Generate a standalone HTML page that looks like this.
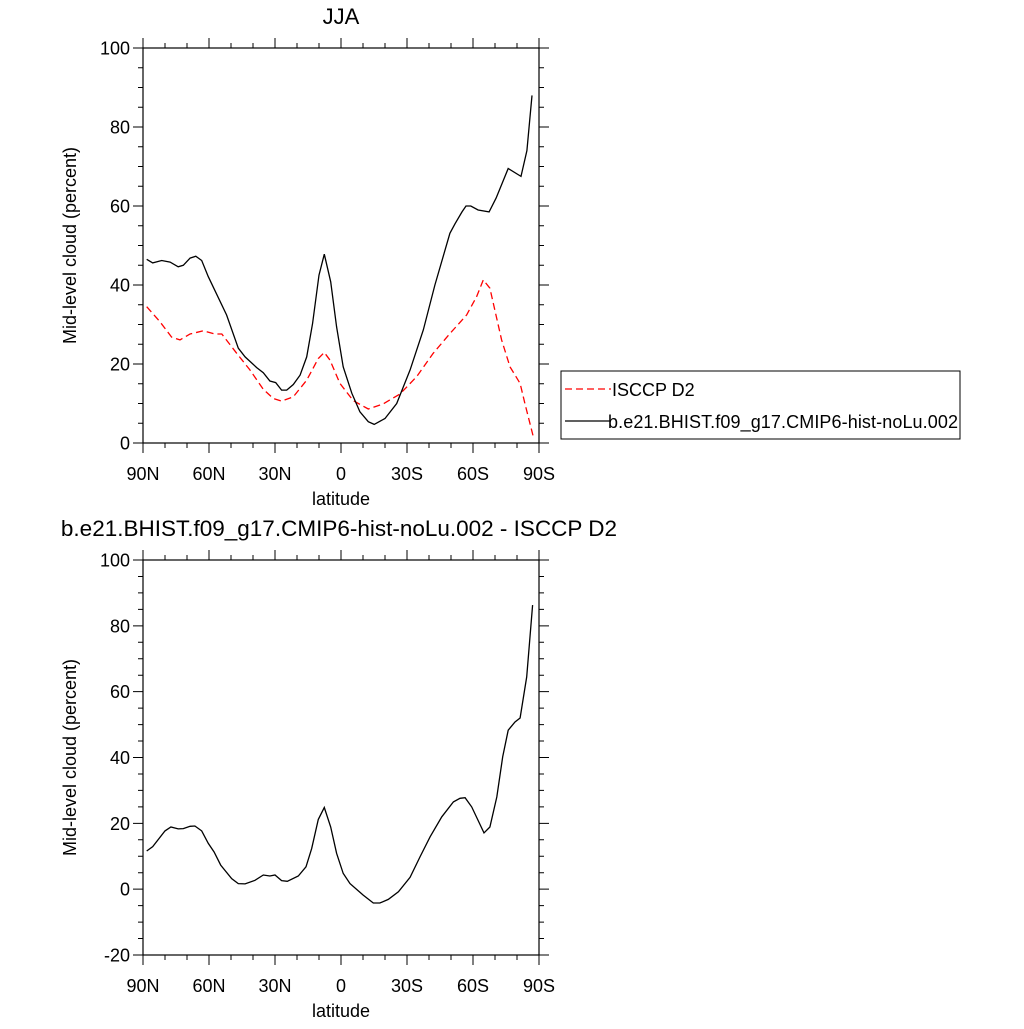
<!DOCTYPE html>
<html><head><meta charset="utf-8"><style>
body{margin:0;background:#fff;}
svg text{font-family:"Liberation Sans",sans-serif;fill:#000;}
</style></head><body>
<svg id="c" width="1024" height="1024" xmlns="http://www.w3.org/2000/svg"></svg>
<script>
const xTickLabels=["90N","60N","30N","0","30S","60S","90S"];
const xTickLats=[90,60,30,0,-30,-60,-90];
const modelLat=[88.3,85.6,81.5,77.7,74,71.7,68.6,66,63.3,60.3,52,46.7,43.6,38.3,35.3,32.3,29.7,27,24.7,21.7,18.6,15.6,12.9,10,7.6,4.7,2,-1,-4.9,-8.6,-12.4,-15.1,-20,-25.3,-31.4,-37.4,-42.7,-49.5,-51.8,-55,-56.8,-59,-62.3,-67.3,-70.5,-76,-81.8,-84.5,-86.8];
const modelVal=[46.5,45.6,46.2,45.8,44.6,45,46.8,47.3,46.2,42.1,32.4,24,21.8,19.1,17.8,15.7,15.3,13.4,13.4,14.8,17.2,21.8,30.3,42.5,47.8,40.8,29.4,19.3,12.6,7.9,5.4,4.7,6.2,10,18.5,28.6,40,53.1,55.5,58.5,60,60,59,58.5,62,69.5,67.5,74,88];
const obsLat=[88.3,82.3,77,73.2,68.6,62.6,57.3,54.2,47.4,41.4,35.3,30.8,27,21.7,15.6,10.3,7.6,5,0.5,-5.6,-12.4,-19.2,-26.8,-34.4,-41.9,-49.5,-57.1,-61.6,-64.7,-67.7,-73,-76.8,-81.4,-83.6,-87.4];
const obsVal=[34.5,30.7,26.8,26.1,27.6,28.4,27.6,27.6,22.7,18.5,13.6,11.3,10.6,11.7,15.9,21.4,22.9,21,15.1,10.7,8.6,9.9,12.4,16.8,22.7,27.7,32.4,37,41.3,39.2,26.1,19.3,15.1,10,1.6];
const diffLat=[88.3,85.6,80,77.3,74,71.7,68.6,66.4,63.3,60.3,57.7,54.7,49.7,46.7,43.6,39.1,35.3,32.3,30,27,24.4,19.4,15.9,13.3,10.3,7.6,4.7,2,-1,-4.1,-10.1,-14.7,-17.7,-21.5,-26.1,-31.4,-35.9,-40.5,-45.8,-51.1,-54.1,-56.4,-59.4,-65,-67.7,-70.8,-73.5,-76,-79.1,-81.4,-84.4,-87.1];
const diffVal=[11.6,12.9,17.7,18.9,18.3,18.4,19.1,19.2,17.7,13.9,11.3,7.3,3.2,1.7,1.6,2.7,4.3,4,4.3,2.6,2.4,4,6.8,12.4,21.2,24.8,18.9,10.9,4.8,1.7,-1.8,-4.2,-4.2,-3.1,-0.8,3.6,9.8,15.9,22,26.5,27.6,27.8,25,17.1,18.9,28,40.2,48.3,50.8,52,64.5,86.3];
const topTicks=[0,20,40,60,80,100];
const botTicks=[-20,0,20,40,60,80,100];

const svg=document.getElementById('c');
const NS="http://www.w3.org/2000/svg";
function mk(tag,attrs,parent){const e=document.createElementNS(NS,tag);for(const k in attrs)e.setAttribute(k,attrs[k]);(parent||svg).appendChild(e);return e;}
const X0=143,X1=539;
function xs(lat){return X0+(90-lat)/180*(X1-X0);}

function panel(name,top,bot,ymin,ymax,ticks){
  const g=mk('g',{});
  
  
  const ys=v=>bot-(v-ymin)/(ymax-ymin)*(bot-top);
  let d='';
  for(let v=ymin;v<=ymax;v+=5){const maj=(v%20===0);const L=maj?10:5;
    d+=`M${X0-L},${ys(v)}H${X0}M${X1},${ys(v)}H${X1+L}`;}
  for(let l=90;l>=-90;l-=10){const maj=(l%30===0);const L=maj?10:5;
    d+=`M${xs(l)},${bot}V${bot+L}M${xs(l)},${top}V${top-L}`;}
  const tk=mk('path',{d:d,stroke:'#000','stroke-width':1,fill:'none'},g);
  
  const fr=mk('rect',{x:X0,y:top,width:X1-X0,height:bot-top,fill:'none',stroke:'#000','stroke-width':1.2},g);
  
  ticks.forEach(v=>{const t=mk('text',{x:X0-13,y:ys(v)+6.5,'text-anchor':'end','font-size':18},g);t.textContent=v;
    });
  xTickLats.forEach((l,i)=>{const t=mk('text',{x:xs(l),y:bot+37,'text-anchor':'middle','font-size':18},g);t.textContent=xTickLabels[i];
    });
  const xt=mk('text',{x:341,y:bot+62,'text-anchor':'middle','font-size':18},g);xt.textContent='latitude';
  
  const yt=mk('text',{x:0,y:0,'text-anchor':'middle','font-size':18,transform:`translate(76,${(top+bot)/2}) rotate(-90)`},g);yt.textContent='Mid-level cloud (percent)';
  
  return {g,ys};
}
function line(p,lat,val,color,dash,name){
  const pts=lat.map((l,i)=>xs(l).toFixed(1)+','+p.ys(val[i]).toFixed(1)).join(' ');
  const a={points:pts,fill:'none',stroke:color,'stroke-width':1.3};
  if(dash)a['stroke-dasharray']=dash;
  const e=mk('polyline',a,p.g);
  
}
const p1=panel('top-panel',48,443,0,100,topTicks);
line(p1,obsLat,obsVal,'#f00','7,4','isccp-line');
line(p1,modelLat,modelVal,'#000',null,'model-line');
const t1=mk('text',{x:341,y:24,'text-anchor':'middle','font-size':22});t1.textContent='JJA';


const p2=panel('bottom-panel',560,955,-20,100,botTicks);
line(p2,diffLat,diffVal,'#000',null,'difference-line');
const t2=mk('text',{x:339,y:536,'text-anchor':'middle','font-size':22.5});t2.textContent='b.e21.BHIST.f09_g17.CMIP6-hist-noLu.002 - ISCCP D2';


const lg=mk('g',{});

mk('rect',{x:561,y:371,width:399,height:68,fill:'#fff',stroke:'#000','stroke-width':1},lg);
const l1=mk('line',{x1:565,y1:389,x2:611,y2:389,stroke:'#f00','stroke-width':1.3,'stroke-dasharray':'7,4'},lg);

const lt1=mk('text',{x:612,y:396,'font-size':18},lg);lt1.textContent='ISCCP D2';

const l2=mk('line',{x1:565,y1:421,x2:611,y2:421,stroke:'#000','stroke-width':1.3},lg);

const lt2=mk('text',{x:608,y:428,'font-size':18,textLength:350},lg);lt2.textContent='b.e21.BHIST.f09_g17.CMIP6-hist-noLu.002';

</script>
</body></html>
